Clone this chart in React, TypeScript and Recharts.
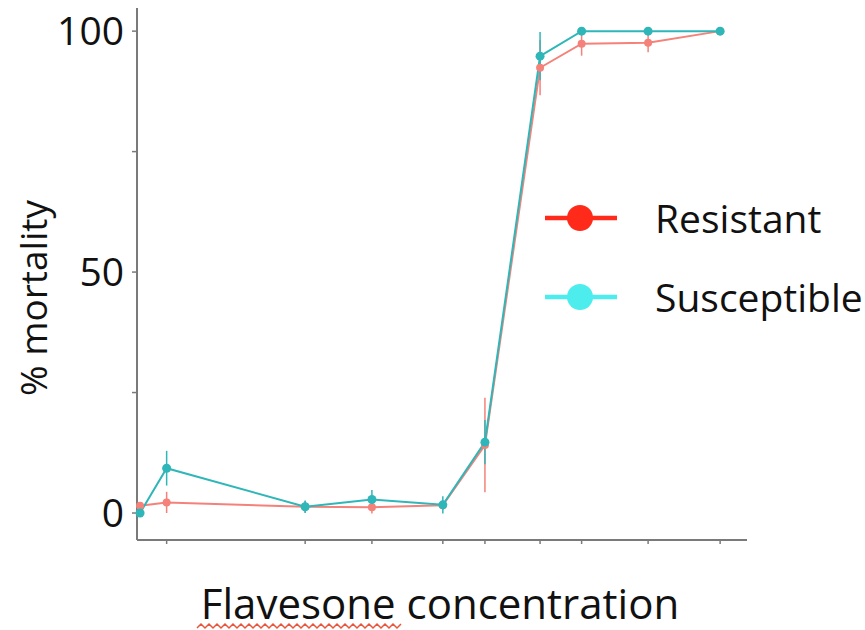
import React from 'react';
import {
  LineChart,
  Line,
  XAxis,
  YAxis,
  ErrorBar,
  Legend,
} from 'recharts';

const dose = [0, 0.96, 5.96, 8.37, 10.93, 12.45, 14.44, 15.94, 18.34, 20.94];

const resistant = [1.5, 2.2, 1.3, 1.2, 1.6, 14.1, 92.4, 97.4, 97.6, 100];
const resistantErr = [0.5, 2.2, 1.2, 1.3, 1.0, 9.8, 5.7, 2.5, 2.0, 0];

const susceptible = [0, 9.3, 1.3, 2.8, 1.7, 14.7, 94.8, 100, 100, 100];
const susceptibleErr = [0, 3.6, 1.3, 2.0, 1.8, 4.6, 5.0, 0, 0, 0];

const yTicks = [0, 25, 50, 75, 100];
const yTickLabels = ['0', '', '50', '', '100'];

const RED = '#F4827A';
const TEAL = '#2FB6B8';
const FONT = '"Open Sans", sans-serif';

const data = dose.map((d, i) => ({
  dose: d,
  resistant: resistant[i],
  resistantErr: resistantErr[i],
  susceptible: susceptible[i],
  susceptibleErr: susceptibleErr[i],
}));

const legendItems = [
  { name: 'Resistant', color: '#FF2A1A' },
  { name: 'Susceptible', color: '#4DEDEE' },
];

const ChartLegend = () => (
  <div style={{ fontFamily: FONT }}>
    {legendItems.map((item) => (
      <div key={item.name} style={{ display: 'flex', alignItems: 'center', height: 79 }}>
        <svg width={80} height={36}>
          <line x1={1} y1={18} x2={73} y2={18} stroke={item.color} strokeWidth={4.5} />
          <circle cx={36} cy={18} r={13} fill={item.color} />
        </svg>
        <span style={{ fontSize: 39, color: '#111', marginLeft: 31 }}>{item.name}</span>
      </div>
    ))}
  </div>
);

// eslint-disable-next-line @typescript-eslint/no-explicit-any
const XLabel = (props: any) => {
  const { viewBox } = props;
  const cx = viewBox.x + viewBox.width / 2 - 2;
  const y = viewBox.y + 79;
  return (
    <g>
      <text x={cx} y={y} textAnchor="middle" fontFamily={FONT} fontSize={42} fill="#111">
        Flavesone concentration
      </text>
      <path
        d={Array.from({ length: 52 }, (_, i) => `${i === 0 ? 'M' : 'L'}${197 + i * 4},${i % 2 ? 624 : 628}`).join(' ')}
        fill="none"
        stroke="#E8553C"
        strokeWidth={1.5}
      />
    </g>
  );
};

// eslint-disable-next-line @typescript-eslint/no-explicit-any
const YLabel = (props: any) => {
  const { viewBox } = props;
  const x = 32;
  const y = viewBox.y + 290;
  return (
    <text
      x={x}
      y={y}
      transform={`rotate(-90 ${x} ${y})`}
      textAnchor="middle"
      dominantBaseline="central"
      fontFamily={FONT}
      fontSize={37}
      fill="#111"
    >
      % mortality
    </text>
  );
};

export default function App() {
  return (
    <div style={{ position: 'absolute', left: 0, top: 0, width: 865, height: 630, background: '#fff' }}>
      <LineChart
        width={865}
        height={630}
        data={data}
        margin={{ top: 8, right: 118, left: 0, bottom: 0 }}
      >
        <XAxis
          dataKey="dose"
          type="number"
          domain={[-0.11, 21.91]}
          ticks={dose.slice(1)}
          tickFormatter={() => ''}
          height={90}
          axisLine={{ stroke: '#7a7a7a', strokeWidth: 2 }}
          tickLine={{ stroke: '#7a7a7a', strokeWidth: 1.5 }}
          tickSize={4}
          label={<XLabel />}
        />
        <YAxis
          type="number"
          domain={[-5.6, 104.8]}
          ticks={yTicks}
          tickFormatter={(v: number) => yTickLabels[yTicks.indexOf(v)]}
          width={137}
          axisLine={{ stroke: '#7a7a7a', strokeWidth: 2 }}
          tickLine={{ stroke: '#7a7a7a', strokeWidth: 1.5 }}
          tickSize={5}
          tick={{ fontFamily: FONT, fontSize: 39, fill: '#111', dx: -6 }}
          label={<YLabel />}
        />
        <Legend
          layout="vertical"
          align="center"
          verticalAlign="middle"
          content={<ChartLegend />}
          wrapperStyle={{ left: 544, top: 178, width: 321 }}
        />
        <Line
          type="linear"
          dataKey="resistant"
          name="Resistant"
          stroke={RED}
          strokeWidth={2}
          dot={{ r: 4, fill: RED, stroke: RED, strokeWidth: 0 }}
          isAnimationActive={false}
        >
          <ErrorBar dataKey="resistantErr" width={0} stroke={RED} strokeWidth={1.5} direction="y" />
        </Line>
        <Line
          type="linear"
          dataKey="susceptible"
          name="Susceptible"
          stroke={TEAL}
          strokeWidth={2}
          dot={{ r: 4.5, fill: TEAL, stroke: TEAL, strokeWidth: 0 }}
          isAnimationActive={false}
        >
          <ErrorBar dataKey="susceptibleErr" width={0} stroke={TEAL} strokeWidth={1.5} direction="y" />
        </Line>
      </LineChart>
    </div>
  );
}
